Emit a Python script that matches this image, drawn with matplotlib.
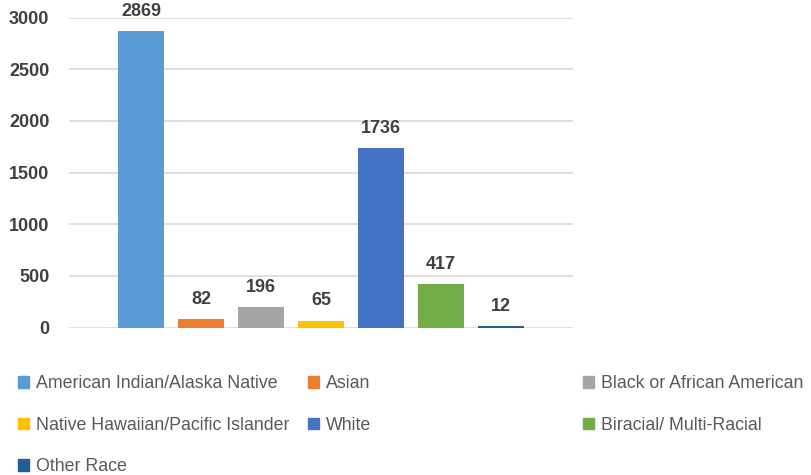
import matplotlib
matplotlib.use("Agg")
from matplotlib import pyplot as plt
from matplotlib.patches import Patch

# date
categories = ["American Indian/Alaska Native", "Asian", "Black or African American",
              "Native Hawaiian/Pacific Islander", "White", "Biracial/ Multi-Racial",
              "Other Race"]
values = [2869, 82, 196, 65, 1736, 417, 12]
colors = ["#5B9BD5", "#ED7D31", "#A5A5A5", "#FFC000", "#4472C4", "#70AD47", "#255E91"]
yticks = [0, 500, 1000, 1500, 2000, 2500, 3000]

plt.rcParams['font.family'] = ['Liberation Sans', 'DejaVu Sans']

fig = plt.figure(figsize=(8.11, 4.75), dpi=100)
ax = fig.add_axes([0.085, 0.3105, 0.6215, 0.6522])

x = list(range(len(values)))
bars = ax.bar(x, values, width=0.78, color=colors, zorder=3)

for xi, v in zip(x, values):
    ax.text(xi, v + 110, str(v), ha="center", va="bottom", fontsize=13,
            fontweight="bold", color="#404040")

ax.set_xlim(-1.2, 7.2)
ax.set_ylim(0, 3000)
ax.set_yticks(yticks)
ax.set_yticklabels([str(t) for t in yticks], fontsize=13, fontweight="bold", color="#404040")
ax.set_xticks([])
ax.tick_params(axis="y", length=0, pad=14)
ax.grid(axis="y", color="#D9D9D9", linewidth=1.2, zorder=0)
for s in ax.spines.values():
    s.set_visible(False)

# legenda pe coloane, ca in Excel
handles = [Patch(color=c) for c in colors]
columns = [([0, 3, 6], 0.022), ([1, 4], 0.38), ([2, 5], 0.719)]
for idx, xpos in columns:
    leg = fig.legend([handles[i] for i in idx], [categories[i] for i in idx],
                     loc="upper left", bbox_to_anchor=(xpos, 0.21), frameon=False,
                     fontsize=12.8, labelcolor="#595959", handlelength=0.6,
                     handleheight=0.6, handletextpad=0.4, labelspacing=1.38,
                     borderpad=0, borderaxespad=0)

fig.savefig("out.png", dpi=100)
